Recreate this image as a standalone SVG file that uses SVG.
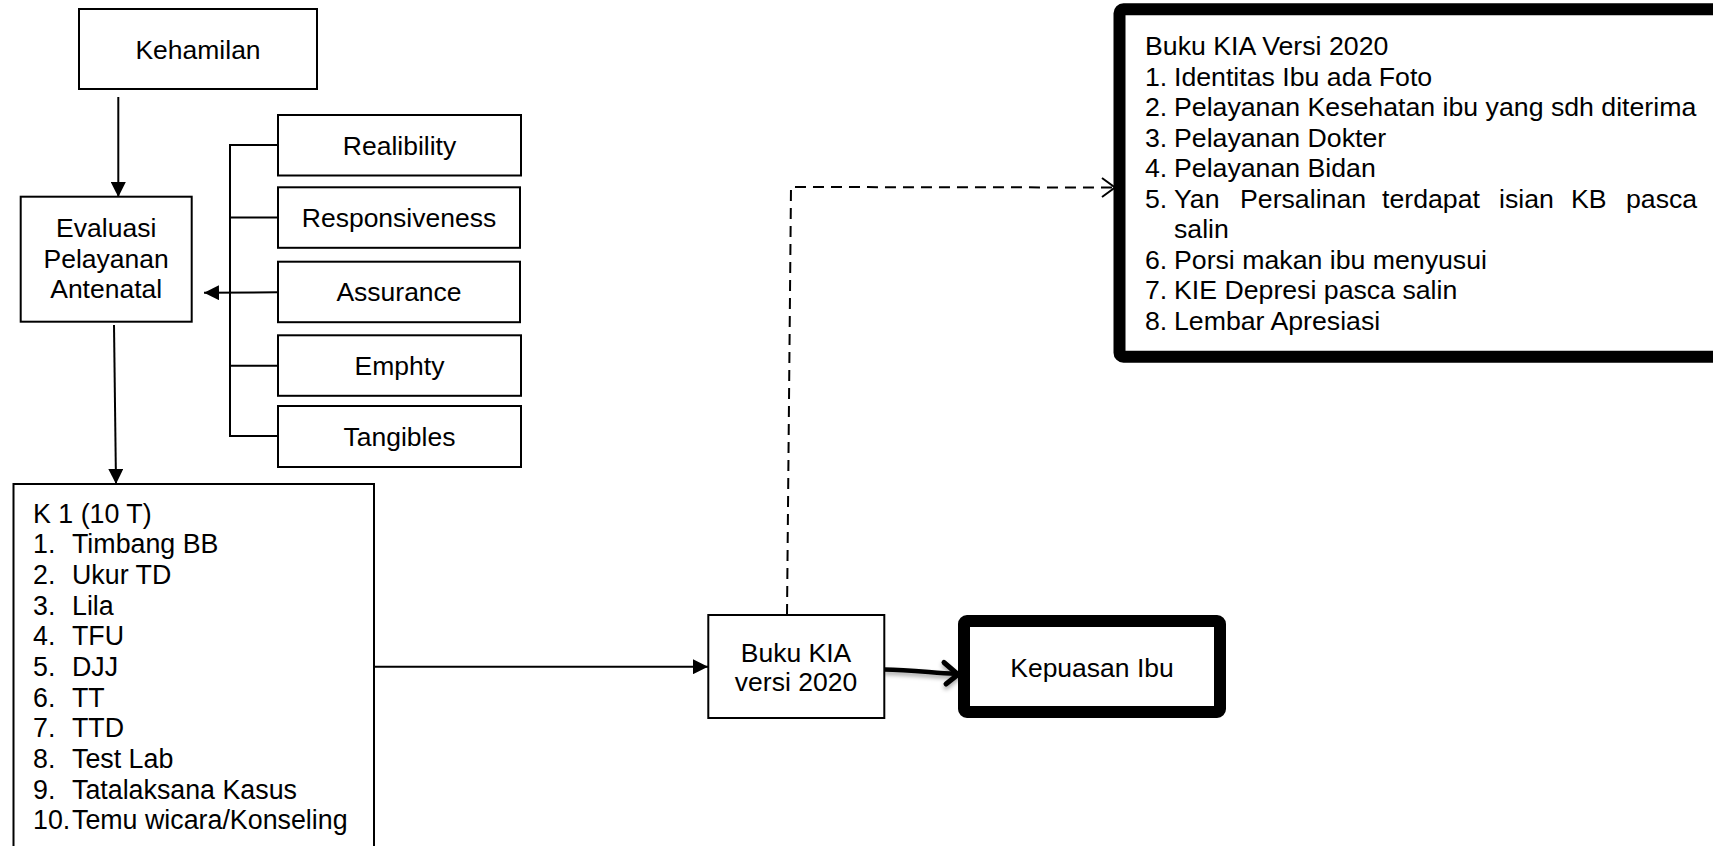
<svg xmlns="http://www.w3.org/2000/svg" width="1713" height="846" viewBox="0 0 1713 846">
<style>
text{font-family:"Liberation Sans",Arial,sans-serif;font-size:26.5px;fill:#000}
.c{text-anchor:middle}
.box{fill:#fff;stroke:#000;stroke-width:2}
.thick{fill:#fff;stroke:#000;stroke-width:12}
.ln{fill:none;stroke:#000;stroke-width:2}
.big text{font-size:26.7px}
#k1 text{font-size:26.8px}
</style>
<defs>
<marker id="tri" viewBox="0 0 15 15" refX="15" refY="7.5" markerWidth="15" markerHeight="15" markerUnits="userSpaceOnUse" orient="auto"><path d="M0,0 L15,7.5 L0,15 Z" fill="#000"/></marker>
<filter id="sh" x="-20%" y="-50%" width="140%" height="200%"><feDropShadow dx="0" dy="3" stdDeviation="2" flood-color="#000" flood-opacity="0.35"/></filter>
</defs>

<g id="connectors">
<line class="ln" x1="118.3" y1="97" x2="118.3" y2="197" marker-end="url(#tri)"/>
<path class="ln" d="M278,145 H230 V436 H278 M230,217.5 H278 M230,365.7 H278"/>
<line class="ln" x1="278" y1="292.3" x2="204" y2="292.8" marker-end="url(#tri)"/>
<line class="ln" x1="114" y1="325" x2="116" y2="484" marker-end="url(#tri)"/>
<line class="ln" x1="374" y1="666.7" x2="708" y2="666.7" marker-end="url(#tri)"/>
<path class="ln" d="M787,615 L791,187 L1113,187.5" stroke-dasharray="11,7"/>
<polyline class="ln" points="1102,178 1115,187.5 1102,197"/>
<g filter="url(#sh)">
<path d="M884,669.5 C910,670 930,672.5 956,674" fill="none" stroke="#000" stroke-width="4.5"/>
<polyline points="944,662.5 958,674.5 946,684" fill="none" stroke="#000" stroke-width="5" stroke-linecap="round" stroke-linejoin="round"/>
</g>
</g>

<g id="kehamilan">
<rect class="box" x="79" y="9" width="238" height="80"/>
<text class="c" x="198" y="58.5">Kehamilan</text>
</g>

<g id="evaluasi">
<rect class="box" x="20.7" y="196.7" width="171" height="125"/>
<text class="c" x="106.2" y="237.3">Evaluasi</text>
<text class="c" x="106.2" y="268.3">Pelayanan</text>
<text class="c" x="106.2" y="298.3">Antenatal</text>
</g>

<g id="realibility">
<rect class="box" x="278" y="115" width="243" height="60.5"/>
<text class="c" x="399.5" y="154.5">Realibility</text>
</g>
<g id="responsiveness">
<rect class="box" x="278" y="187.3" width="242" height="60.5"/>
<text class="c" x="399" y="226.7">Responsiveness</text>
</g>
<g id="assurance">
<rect class="box" x="278" y="261.7" width="242" height="60.5"/>
<text class="c" x="399" y="301">Assurance</text>
</g>
<g id="emphty">
<rect class="box" x="278" y="335.3" width="243" height="60.5"/>
<text class="c" x="399.5" y="374.5">Emphty</text>
</g>
<g id="tangibles">
<rect class="box" x="278" y="406" width="243" height="61"/>
<text class="c" x="399.5" y="445.5">Tangibles</text>
</g>

<g id="k1">
<rect class="box" x="13.5" y="484" width="360.5" height="400"/>
<text x="33" y="522.7">K 1 (10 T)</text>
<text x="33" y="553.4">1.</text><text x="72" y="553.4">Timbang BB</text>
<text x="33" y="584">2.</text><text x="72" y="584">Ukur TD</text>
<text x="33" y="614.7">3.</text><text x="72" y="614.7">Lila</text>
<text x="33" y="645.3">4.</text><text x="72" y="645.3">TFU</text>
<text x="33" y="676">5.</text><text x="72" y="676">DJJ</text>
<text x="33" y="706.7">6.</text><text x="72" y="706.7">TT</text>
<text x="33" y="737.3">7.</text><text x="72" y="737.3">TTD</text>
<text x="33" y="768">8.</text><text x="72" y="768">Test Lab</text>
<text x="33" y="798.6">9.</text><text x="72" y="798.6">Tatalaksana Kasus</text>
<text x="33" y="829.3">10.</text><text x="72" y="829.3">Temu wicara/Konseling</text>
</g>

<g id="buku-kia">
<rect class="box" x="708.3" y="615" width="176" height="103"/>
<text class="c" x="796" y="662">Buku KIA</text>
<text class="c" x="796" y="691">versi 2020</text>
</g>

<g id="kepuasan">
<rect class="thick" x="964" y="621" width="256" height="91" rx="3"/>
<text class="c" x="1092" y="676.5">Kepuasan Ibu</text>
</g>

<g id="buku-kia-2020" class="big">
<rect class="thick" x="1119.5" y="9.3" width="700" height="347.5" rx="4"/>
<text x="1145" y="55">Buku KIA Versi 2020</text>
<text x="1145" y="85.5">1.</text><text x="1174" y="85.5">Identitas Ibu ada Foto</text>
<text x="1145" y="116">2.</text><text x="1174" y="116">Pelayanan Kesehatan ibu yang sdh diterima</text>
<text x="1145" y="146.5">3.</text><text x="1174" y="146.5">Pelayanan Dokter</text>
<text x="1145" y="177">4.</text><text x="1174" y="177">Pelayanan Bidan</text>
<text x="1145" y="207.5">5.</text><text y="207.5"><tspan x="1174">Yan</tspan> <tspan x="1240">Persalinan</tspan> <tspan x="1382">terdapat</tspan> <tspan x="1499">isian</tspan> <tspan x="1571">KB</tspan> <tspan x="1626">pasca</tspan></text>
<text x="1174" y="238">salin</text>
<text x="1145" y="268.5">6.</text><text x="1174" y="268.5">Porsi makan ibu menyusui</text>
<text x="1145" y="299">7.</text><text x="1174" y="299">KIE Depresi pasca salin</text>
<text x="1145" y="329.5">8.</text><text x="1174" y="329.5">Lembar Apresiasi</text>
</g>
</svg>
